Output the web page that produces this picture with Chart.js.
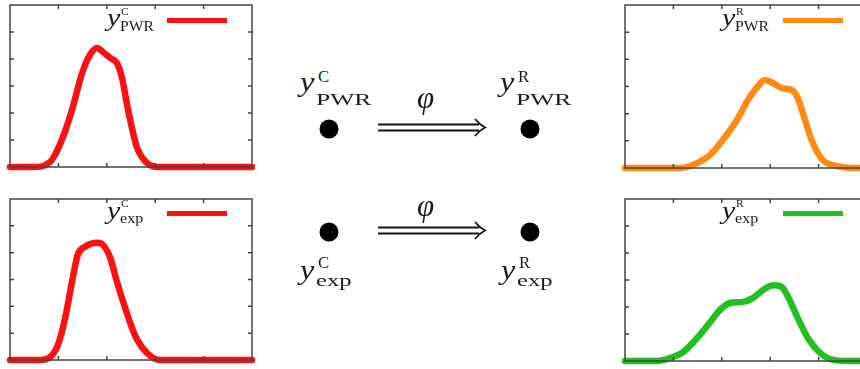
<!DOCTYPE html>
<html>
<head>
<meta charset="utf-8">
<script src="https://cdn.jsdelivr.net/npm/chart.js@4.4.0/dist/chart.umd.min.js"></script>
<style>
  html, body { margin: 0; padding: 0; background: #fff; }
  body { width: 860px; height: 369px; position: relative; overflow: hidden; }
  .panel { position: absolute; }
  .tx { position: absolute; font-family: "Liberation Serif", serif; line-height: 1; white-space: nowrap; color: #1a1a1a; }
  .it { font-style: italic; }
  .key { position: absolute; height: 5px; }
</style>
</head>
<body>
<div class="panel" style="left:0;top:0;width:262px;height:178px"><canvas id="c-pwr-c"></canvas></div>
<div class="panel" style="left:0;top:185px;width:262px;height:184px"><canvas id="c-exp-c"></canvas></div>
<div class="panel" style="left:615px;top:0;width:262px;height:178px"><canvas id="c-pwr-r"></canvas></div>
<div class="panel" style="left:615px;top:185px;width:262px;height:184px"><canvas id="c-exp-r"></canvas></div>
<div class="panel" style="left:280px;top:100px;width:300px;height:160px"><canvas id="c-map"></canvas></div>
<script>
// series names (superscript / subscript)
var seriesSup = ['C', 'C', 'R', 'R'];
var seriesSub = ['PWR', 'exp', 'PWR', 'exp'];
var seriesColor = ['#ff1010', '#ff1010', '#ff8a12', '#1fc01f'];

// y^C_PWR
var pwrC_x = [0, 0.48, 0.83, 1.07, 1.28, 1.49, 1.65, 1.80, 1.92, 2.07, 2.21, 2.31, 2.44, 2.62, 2.83, 3.06, 5];
var pwrC_y = [0, 0, 0.19, 1.00, 2.11, 3.48, 4.15, 4.41, 4.26, 4.04, 3.85, 3.33, 2.11, 0.74, 0.15, 0, 0];
// y^C_exp
var expC_x = [0, 0.62, 0.83, 0.99, 1.14, 1.28, 1.40, 1.55, 1.80, 1.92, 2.07, 2.21, 2.38, 2.58, 2.83, 3.10, 5];
var expC_y = [0, 0, 0.11, 0.56, 1.57, 2.91, 3.92, 4.22, 4.37, 4.29, 3.81, 2.91, 1.94, 0.93, 0.26, 0, 0];
// y^R_PWR
var pwrR_x = [0, 1.14, 1.49, 1.76, 2.02, 2.31, 2.54, 2.73, 2.89, 3.06, 3.24, 3.45, 3.57, 3.72, 3.88, 4.09, 4.38, 4.71, 5];
var pwrR_y = [0, 0, 0.18, 0.48, 1.03, 1.76, 2.50, 2.98, 3.24, 3.13, 2.94, 2.87, 2.57, 1.76, 0.92, 0.29, 0.07, 0, 0];
// y^R_exp
var expR_x = [0, 0.66, 0.93, 1.20, 1.49, 1.76, 1.96, 2.17, 2.44, 2.64, 2.85, 3.06, 3.24, 3.37, 3.57, 3.78, 4.03, 4.30, 4.60, 5];
var expR_y = [0, 0, 0.11, 0.33, 0.85, 1.44, 1.89, 2.15, 2.19, 2.33, 2.63, 2.81, 2.74, 2.37, 1.59, 0.85, 0.30, 0.04, 0, 0];

// axis ranges shared by all four panels
var xMin = 0, xMax = 5, yMin = 0, yMax = 6;

// mapping diagram: column 0 = C, column 1 = R; row 1 = PWR, row 0 = exp
var nodeCol = [0, 1];
var nodeRow = [1, 0];

// box frame with short inward ticks on all four sides (gnuplot look)
var frameTicks = {
  id: 'frameTicks',
  afterDatasetsDraw: function(chart) {
    var ctx = chart.ctx, a = chart.chartArea;
    var sx = chart.scales.x, sy = chart.scales.y;
    var len = 4;
    ctx.save();
    ctx.strokeStyle = '#444';
    ctx.lineWidth = 1.5;
    ctx.strokeRect(a.left, a.top, a.right - a.left, a.bottom - a.top);
    ctx.beginPath();
    for (var v = sx.min + 1; v < sx.max; v++) {
      var px = sx.getPixelForValue(v);
      ctx.moveTo(px, a.bottom); ctx.lineTo(px, a.bottom - len);
      ctx.moveTo(px, a.top); ctx.lineTo(px, a.top + len);
    }
    for (var w = sy.min + 1; w < sy.max; w++) {
      var py = sy.getPixelForValue(w);
      ctx.moveTo(a.left, py); ctx.lineTo(a.left + len, py);
      ctx.moveTo(a.right, py); ctx.lineTo(a.right - len, py);
    }
    ctx.stroke();
    ctx.restore();
  }
};

function makePanel(id, xs, ys, color, pad) {
  var pts = xs.map(function(x, i) { return {x: x, y: ys[i]}; });
  return new Chart(document.getElementById(id), {
    type: 'line',
    data: {
      datasets: [{
        data: pts,
        borderColor: color,
        borderWidth: 6.5,
        pointRadius: 0,
        cubicInterpolationMode: 'monotone',
        borderCapStyle: 'round',
        borderJoinStyle: 'round',
        fill: false,
        clip: false
      }]
    },
    options: {
      responsive: true,
      maintainAspectRatio: false,
      animation: false,
      layout: { padding: pad },
      plugins: { legend: { display: false }, tooltip: { enabled: false } },
      scales: {
        x: { type: 'linear', min: xMin, max: xMax, display: false },
        y: { type: 'linear', min: yMin, max: yMax, display: false }
      }
    },
    plugins: [frameTicks]
  });
}

makePanel('c-pwr-c', pwrC_x, pwrC_y, seriesColor[0], {left: 10, right: 10, top: 5, bottom: 11});
makePanel('c-exp-c', expC_x, expC_y, seriesColor[1], {left: 10, right: 10, top: 14, bottom: 9});
makePanel('c-pwr-r', pwrR_x, pwrR_y, seriesColor[2], {left: 10, right: 10, top: 5, bottom: 10});
makePanel('c-exp-r', expR_x, expR_y, seriesColor[3], {left: 10, right: 10, top: 14, bottom: 8});

// double arrow (\Longrightarrow) between the two nodes of each row
var mapArrows = {
  id: 'mapArrows',
  afterDatasetsDraw: function(chart) {
    var ctx = chart.ctx, sx = chart.scales.x, sy = chart.scales.y;
    ctx.save();
    ctx.strokeStyle = '#111';
    ctx.lineWidth = 1.8;
    nodeRow.forEach(function(r) {
      var y = sy.getPixelForValue(r) - 1.5;
      var x0 = sx.getPixelForValue(nodeCol[0]) + 49;
      var x1 = sx.getPixelForValue(nodeCol[1]) - 45;
      ctx.beginPath();
      ctx.moveTo(x0, y - 3); ctx.lineTo(x1 - 6, y - 3);
      ctx.moveTo(x0, y + 3); ctx.lineTo(x1 - 6, y + 3);
      ctx.moveTo(x1 - 10, y - 8.5);
      ctx.quadraticCurveTo(x1 - 5, y - 2.5, x1, y);
      ctx.quadraticCurveTo(x1 - 5, y + 2.5, x1 - 10, y + 8.5);
      ctx.stroke();
    });
    ctx.restore();
  }
};

var nodes = [];
nodeRow.forEach(function(r) {
  nodeCol.forEach(function(c) { nodes.push({x: c, y: r}); });
});

new Chart(document.getElementById('c-map'), {
  type: 'scatter',
  data: {
    datasets: [{
      data: nodes,
      pointRadius: 9.5,
      pointBackgroundColor: '#000',
      pointBorderWidth: 0,
      clip: false
    }]
  },
  options: {
    responsive: true,
    maintainAspectRatio: false,
    animation: false,
    layout: { padding: {left: 49, right: 50, top: 29, bottom: 28} },
    plugins: { legend: { display: false }, tooltip: { enabled: false } },
    scales: {
      x: { type: 'linear', min: 0, max: 1, display: false },
      y: { type: 'linear', min: 0, max: 1, display: false }
    }
  },
  plugins: [mapArrows]
});

// text helpers: place a span by its left edge and baseline
function put(txt, left, base, size, italic, sx) {
  var s = document.createElement('span');
  s.className = 'tx' + (italic ? ' it' : '');
  s.textContent = txt;
  s.style.fontSize = size + 'px';
  s.style.left = left + 'px';
  s.style.top = (base - 0.8375 * size) + 'px';
  if (sx) { s.style.transform = 'scaleX(' + sx + ')'; s.style.transformOrigin = 'left top'; }
  document.body.appendChild(s);
}
// y with stacked superscript / subscript
function label(i, left, base, f) {
  put('y', left, base, f.big, true, 1.15);
  put(seriesSup[i], left + f.supDx, base - f.supRise, f.sup, false, 1.05);
  put(seriesSub[i], left + f.subDx, base + f.subDrop, f.sub, false, f.subSx);
}
function key(i, left, top) {
  var d = document.createElement('div');
  d.className = 'key';
  d.style.left = left + 'px';
  d.style.top = top + 'px';
  d.style.width = '60px';
  d.style.background = seriesColor[i];
  document.body.appendChild(d);
}

var midPwr = {big: 28, sup: 16, sub: 17, supDx: 18, subDx: 16, supRise: 9, subDrop: 14, subSx: 1.5};
var midExp = {big: 28, sup: 16, sub: 17, supDx: 18, subDx: 16, supRise: 11, subDrop: 7, subSx: 1.45};
var keyPwr = {big: 26, sup: 11, sub: 14, supDx: 14, subDx: 13, supRise: 12, subDrop: 5, subSx: 1.12};
var keyExp = {big: 26, sup: 11, sub: 14, supDx: 14, subDx: 13, supRise: 13, subDrop: 4, subSx: 1.15};

// centre labels
label(0, 300, 91, midPwr);
label(2, 500, 91, midPwr);
label(1, 300, 279, midExp);
label(3, 501, 279, midExp);
put('\u03C6', 417, 108, 31, true);
put('\u03C6', 417, 216, 31, true);

// legends inside the panels
label(0, 107, 27, keyPwr);
key(0, 167, 18);
label(1, 107, 220, keyExp);
key(1, 167, 211);
label(2, 722, 27, keyPwr);
key(2, 783, 18);
label(3, 722, 220, keyExp);
key(3, 783, 211);
</script>
</body>
</html>
